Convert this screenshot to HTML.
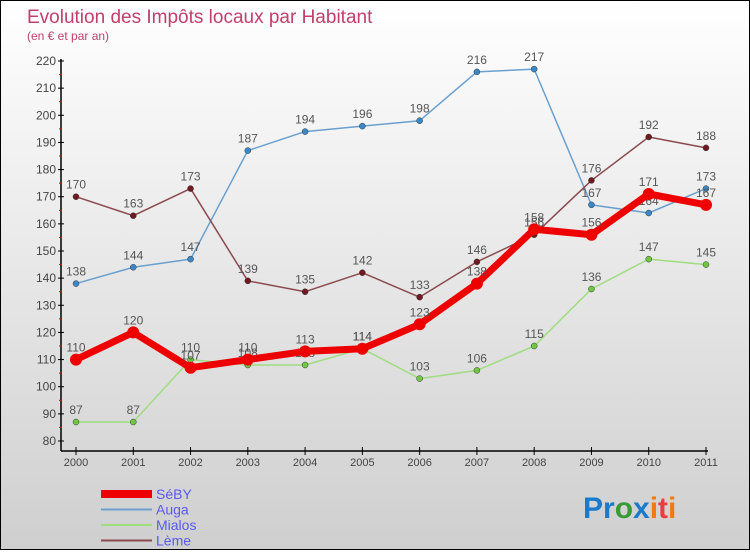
<!DOCTYPE html>
<html><head><meta charset="utf-8"><style>
body{margin:0;font-family:"Liberation Sans",sans-serif}
#c{width:748px;height:548px;border:1px solid #000;background:linear-gradient(#ffffff,#cfcfcf);position:relative}
</style></head><body>
<div id="c">
<svg id="s" width="748" height="548" xmlns="http://www.w3.org/2000/svg">
<text x="26" y="22" font-size="19" fill="#c0406a">Evolution des Impôts locaux par Habitant</text>
<text x="26" y="39" font-size="12" fill="#c0406a">(en € et par an)</text>
<g id="axes"></g><g id="lines"></g><g id="legend"></g>
<text x="582" y="517" font-size="30" font-weight="bold"><tspan fill="#1a7acc">Pr</tspan><tspan fill="#3a9a3a">o</tspan><tspan fill="#1a7acc">x</tspan><tspan fill="#f07a10">i</tspan><tspan fill="#e84040">t</tspan><tspan fill="#f07a10">i</tspan></text>
</svg></div>
<script>
const years=["2000","2001","2002","2003","2004","2005","2006","2007","2008","2009","2010","2011"];
const yTicks=[80,90,100,110,120,130,140,150,160,170,180,190,200,210,220];
const seby=[110,120,107,110,113,114,123,138,158,156,171,167];
const auga=[138,144,147,187,194,196,198,216,217,167,164,173];
const mialos=[87,87,110,108,108,114,103,106,115,136,147,145];
const leme=[170,163,173,139,135,142,133,146,156,176,192,188];
const NS="http://www.w3.org/2000/svg";
function X(i){return 75+i*(630/11);}
function Y(v){return 440-(v-80)*(380/140);}
function mk(t,a,p){const e=document.createElementNS(NS,t);for(const k in a)e.setAttribute(k,a[k]);p.appendChild(e);return e;}
const ax=document.getElementById('axes');
let l=mk('line',{x1:60,y1:58,x2:60,y2:450,stroke:'#000','stroke-width':1.5},ax);

l=mk('line',{x1:60,y1:450,x2:707,y2:450,stroke:'#000','stroke-width':1.5},ax);

yTicks.forEach((v,i)=>{
 mk('line',{x1:57,y1:Y(v),x2:63,y2:Y(v),stroke:'#000'},ax);
 if(i<yTicks.length-1)mk('line',{x1:58,y1:Y(v+5),x2:61,y2:Y(v+5),stroke:'#e00'},ax);
 const t=mk('text',{x:55,y:Y(v)+4,'font-size':12,fill:'#444','text-anchor':'end'},ax);t.textContent=v;
 
});
years.forEach((y,i)=>{
 mk('line',{x1:X(i),y1:446,x2:X(i),y2:454,stroke:'#000'},ax);
 const t=mk('text',{x:X(i),y:465,'font-size':11,fill:'#444','text-anchor':'middle'},ax);t.textContent=y;
 
});
const series=[
 {n:'auga',d:auga,c:'#6aa0d0',p:'#3a88c8',w:1.5,r:3},
 {n:'mialos',d:mialos,c:'#a0dc80',p:'#70c840',w:1.5,r:3},
 {n:'leme',d:leme,c:'#8a4a50',p:'#701a20',w:1.5,r:3},
 {n:'seby',d:seby,c:'#ee0000',p:'#ee0000',w:7,r:6}];
const lg=document.getElementById('lines');
series.forEach(s=>{
 const pl=mk('polyline',{points:s.d.map((v,i)=>X(i)+','+Y(v)).join(' '),fill:'none',stroke:s.c,'stroke-width':s.w,'stroke-linejoin':'round'},lg);
 
 s.d.forEach((v,i)=>{
  const c=mk('circle',{cx:X(i),cy:Y(v),r:s.r,fill:s.p,stroke:s.n=='seby'?'#ee0000':'#333','stroke-width':s.n=='seby'?0:0.5},lg);
  
  const t=mk('text',{x:X(i),y:Y(v)-8,'font-size':12,fill:'#555','text-anchor':'middle'},lg);t.textContent=v;
  
 });
});
const leg=document.getElementById('legend');
[['SéBY','#ee0000',8],['Auga','#6aa0d0',2],['Mialos','#a0dc80',2],['Lème','#8a4a50',2]].forEach((e,i)=>{
 const y=493+i*15.5;
 const r=mk('rect',{x:100,y:y-e[2]/2,width:51,height:e[2],fill:e[1]},leg);
 
 const t=mk('text',{x:155,y:y+5,'font-size':14,fill:'#5a5aee'},leg);t.textContent=e[0];
 
});
</script></body></html>
